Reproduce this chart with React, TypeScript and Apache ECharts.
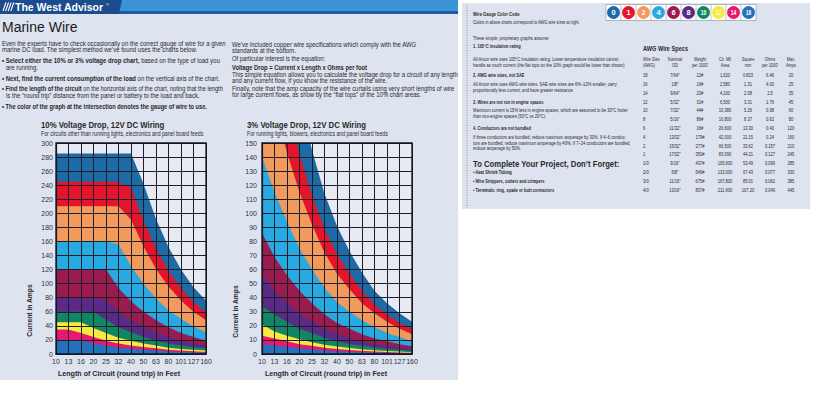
import React, { useEffect, useRef } from "react";
import * as echarts from "echarts";

// ---------- data ----------
const lengths = ["10", "13", "16", "20", "25", "32", "40", "50", "63", "80", "101", "127", "160"];
const gauges = ["0", "1", "2", "4", "6", "8", "10", "12", "14", "16"];
const gaugeColors = ["#1c6aa6", "#e3152c", "#f29a5b", "#27a9e1", "#9c1b4e", "#5a2a86", "#0f8765", "#f6ea3d", "#e6186f", "#2471bd"];

// 10% voltage drop chart (amps, top edge of each gauge's area)
const tenPctAwg0 = [285, 285, 285, 285, 285, 285, 285, 242, 192, 152, 120, 95, 76];
const tenPctAwg1 = [245, 245, 245, 245, 245, 245, 236, 189, 150, 118, 94, 74, 59];
const tenPctAwg2 = [210, 210, 210, 210, 210, 210, 191, 153, 121, 96, 76, 60, 48];
const tenPctAwg4 = [160, 160, 160, 160, 160, 156, 125, 100, 79, 62, 50, 39, 31];
const tenPctAwg6 = [120, 120, 120, 120, 120, 94, 75, 60, 48, 38, 30, 24, 19];
const tenPctAwg8 = [80, 80, 80, 80, 77, 60, 48, 39, 31, 24, 19, 15, 12];
const tenPctAwg10 = [60, 60, 60, 60, 49, 38, 31, 24, 19, 15, 12, 10, 8];
const tenPctAwg12 = [45, 45, 45, 37, 30, 23, 19, 15, 12, 9, 7, 6, 5];
const tenPctAwg14 = [35, 35, 30, 24, 19, 15, 12, 10, 8, 6, 5, 4, 3];
const tenPctAwg16 = [20, 20, 19, 15, 12, 9, 7.5, 6, 5, 4, 3, 2.4, 1.9];

// 3% voltage drop chart
const threePctAwg0 = [364, 280, 227, 182, 145, 114, 91, 73, 58, 45, 36, 29, 23];
const threePctAwg1 = [283, 218, 177, 142, 113, 89, 71, 57, 45, 35, 28, 22, 18];
const threePctAwg2 = [229, 176, 143, 115, 92, 72, 57, 46, 36, 29, 23, 18, 14];
const threePctAwg4 = [140, 115, 94, 75, 60, 47, 37, 30, 24, 19, 15, 12, 9];
const threePctAwg6 = [86, 69, 56, 45, 36, 28, 22, 18, 14, 11, 9, 7, 5.5];
const threePctAwg8 = [57, 45, 36, 29, 23, 18, 14.5, 11.6, 9, 7, 5.8, 4.6, 3.6];
const threePctAwg10 = [34, 28, 23, 18, 15, 11.5, 9, 7, 6, 4.6, 3.6, 2.9, 2.3];
const threePctAwg12 = [21, 16, 13, 10.5, 8.4, 6.6, 5.3, 4.2, 3.3, 2.6, 2.1, 1.7, 1.3];
const threePctAwg14 = [13, 11, 9, 7, 5.8, 4.5, 3.6, 2.9, 2.3, 1.8, 1.4, 1.1, 0.9];
const threePctAwg16 = [7, 6, 5, 4, 3.2, 2.5, 2, 1.6, 1.3, 1, 0.8, 0.6, 0.5];

// AWG wire spec table
const tableHeader = [["Wire Size", "(AWG)"], ["Nominal", "OD"], ["Weight", "per 1000'"], ["Cir. Mil", "Area"], ["Square", "mm"], ["Ohms", "per 1000'"], ["Max.", "Amps"]];
const awgSize = ["18", "16", "14", "12", "10", "8", "6", "4", "2", "1", "1/0", "2/0", "3/0", "4/0"];
const nominalOD = ['7/64"', '1/8"', '9/64"', '5/32"', '7/32"', '5/16"', '11/32"', '13/32"', '15/32"', '17/32"', '9/16"', '5/8"', '11/16"', '13/16"'];
const weightPer1000 = ["12#", "16#", "23#", "31#", "44#", "86#", "16#", "179#", "277#", "350#", "437#", "549#", "675#", "837#"];
const cirMilArea = ["1,620", "2,580", "4,100", "6,500", "10,380", "16,800", "26,600", "42,000", "66,500", "83,690", "105,600", "133,000", "167,800", "211,600"];
const squareMm = ["0.823", "1.31", "2.08", "3.31", "5.26", "8.37", "13.30", "21.15", "33.62", "44.21", "53.49", "67.43", "85.01", "107.20"];
const ohmsPer1000 = ["6.46", "4.00", "2.5", "1.76", "0.98", "0.62", "0.40", "0.24", "0.157", "0.127", "0.099", "0.077", "0.062", "0.049"];
const maxAmps = ["20", "25", "35", "45", "60", "80", "120", "160", "210", "245", "285", "330", "385", "445"];

const tenPct = [tenPctAwg0, tenPctAwg1, tenPctAwg2, tenPctAwg4, tenPctAwg6, tenPctAwg8, tenPctAwg10, tenPctAwg12, tenPctAwg14, tenPctAwg16];
const threePct = [threePctAwg0, threePctAwg1, threePctAwg2, threePctAwg4, threePctAwg6, threePctAwg8, threePctAwg10, threePctAwg12, threePctAwg14, threePctAwg16];

// ---------- helpers ----------
const FONT = "'Liberation Sans', Arial, Helvetica, sans-serif";
const INK = "#2a2a2a";

type TOpt = { size?: number; bold?: boolean; color?: string; sx?: number; align?: string; rot?: number };
function txt(x: number, y: number, text: string, o: TOpt = {}) {
  return {
    type: "text",
    x,
    y,
    scaleX: o.sx ?? 1,
    rotation: o.rot ?? 0,
    z: 10,
    silent: true,
    style: {
      text,
      fill: o.color ?? INK,
      fontSize: o.size ?? 6.5,
      fontWeight: o.bold ? "bold" : "normal",
      fontFamily: FONT,
      align: o.align ?? "left",
      verticalAlign: "middle",
    },
  };
}
function richTxt(x: number, y: number, parts: [string, boolean][], size: number, sx: number) {
  return {
    type: "text",
    x,
    y,
    scaleX: sx,
    z: 10,
    silent: true,
    style: {
      text: parts.map(([t, b]) => `{${b ? "b" : "n"}|${t}}`).join(""),
      align: "left",
      verticalAlign: "middle",
      rich: {
        b: { fontSize: size, fontWeight: "bold", fontFamily: FONT, fill: INK },
        n: { fontSize: size, fontWeight: "normal", fontFamily: FONT, fill: INK },
      },
    },
  };
}
function rect(x: number, y: number, w: number, h: number, fill: string, z = 0, extra: any = {}) {
  return { type: "rect", shape: { x, y, width: w, height: h }, style: { fill, ...extra }, z, silent: true };
}

// ---------- text content ----------
const introLeft: [number, number, number, [string, boolean][]][] = [
  [2, 43, 0.91, [["Even the experts have to check occasionally on the correct gauge of wire for a given", false]]],
  [2, 49.5, 0.91, [["marine DC load. The simplest method we\u2019ve found uses the charts below.", false]]],
  [2, 60.5, 0.91, [["\u2022 Select either the 10% or 3% voltage drop chart,", true], [" based on the type of load you", false]]],
  [6, 67, 0.91, [["are running.", false]]],
  [2, 78.5, 0.9, [["\u2022 Next, find the current consumption of the load", true], [" on the vertical axis of the chart.", false]]],
  [2, 88.5, 0.86, [["\u2022 Find the length of the circuit", true], [" on the horizontal axis of the chart, noting that the length", false]]],
  [6, 95, 0.91, [["is the \u201Cround trip\u201D distance from the panel or battery to the load and back.", false]]],
  [2, 106, 0.86, [["\u2022 The color of the graph at the intersection denotes the gauge of wire to use.", true]]],
];
const introRight: [number, number, number, [string, boolean][]][] = [
  [232, 44, 0.9, [["We\u2019ve included copper wire specifications which comply with the AWG", false]]],
  [232, 50, 0.9, [["standards at the bottom.", false]]],
  [232, 58.5, 0.88, [["Of particular interest is the equation:", false]]],
  [232, 67, 0.88, [["Voltage Drop = Current x Length x Ohms per foot", true]]],
  [232, 74.5, 0.9, [["This simple equation allows you to calculate the voltage drop for a circuit of any length", false]]],
  [232, 80.5, 0.9, [["and any current flow, if you know the resistance of the wire.", false]]],
  [232, 88.5, 0.9, [["Finally, note that the amp capacity of the wire curtails using very short lengths of wire", false]]],
  [232, 94.5, 0.9, [["for large current flows, as show by the \u201Cflat tops\u201D of the 10% chart areas.", false]]],
];

const ROW0 = 75.5;
const ROWH = 8.8;
const rowY = (i: number) => ROW0 + i * ROWH;

const notes: [number, string, boolean][] = [
  [38, "These simple, proprietary graphs assume:", false],
  [46, "1. 105\u00B0C insulation rating", true],
  [59, "All Ancor wire uses 105\u00B0C insulation rating. Lower temperature insulation cannot", false],
  [65, "handle as much current (the flat tops on the 10% graph would be lower than shown)", false],
  [rowY(0), "2. AWG wire sizes, not SAE", true],
  [rowY(1), "All Ancor wire uses AWG wire sizes. SAE wire sizes are 6%\u201312% smaller, carry", false],
  [rowY(1) + 5.8, "proportionally less current, and have greater resistance", false],
  [rowY(3), "3. Wires are not run in engine spaces", true],
  [rowY(4), "Maximum current is 15% less in engine spaces, which are assumed to be 30\u00B0C hotter", false],
  [rowY(4) + 5.8, "than non-engine spaces (50\u00B0C vs 20\u00B0C).", false],
  [rowY(6), "4. Conductors are not bundled", true],
  [rowY(7), "If three conductors are bundled, reduce maximum amperage by 30%. If 4\u20136 conduc-", false],
  [rowY(7) + 5.8, "tors are bundled, reduce maximum amperage by 40%. If 7\u201324 conductors are bundled,", false],
  [rowY(7) + 11.6, "reduce amperage by 50%.", false],
  [rowY(11) + 0.5, "\u2022 Heat Shrink Tubing", true],
  [rowY(12), "\u2022 Wire Strippers, cutters and crimpers", true],
  [rowY(13), "\u2022 Terminals: ring, spade or butt connectors", true],
];

export default function App() {
  const ref = useRef<HTMLDivElement>(null);

  useEffect(() => {
    if (!ref.current) return;
    const chart = echarts.init(ref.current, null, { renderer: "svg" });

    const G1 = { left: 56, top: 143, width: 150, height: 211 };
    const G2 = { left: 262, top: 143, width: 150, height: 211 };
    const PANEL = "#dde3ef";
    const PLOT = "#e7eaf3";
    const GRIDLINE = "#1e1e2a";

    const graphics: any[] = [];
    // backgrounds
    graphics.push(rect(0, 0, 458, 380, PANEL, 0));
    graphics.push(rect(462, 3, 348, 206, PANEL, 0));
    graphics.push(rect(G1.left, G1.top, G1.width, G1.height, PLOT, 1));
    graphics.push(rect(G2.left, G2.top, G2.width, G2.height, PLOT, 1));
    // header bar
    graphics.push(rect(0, 0, 458, 11, "#3d93d8", 2));
    graphics.push(rect(0, 11, 458, 3, "#1f5b9e", 2));
    graphics.push({ type: "polygon", shape: { points: [[0, 0], [122, 0], [119, 14], [0, 14]] }, style: { fill: "#1d4c8e" }, z: 3, silent: true });
    for (let k = 0; k < 4; k++) {
      graphics.push({ type: "line", shape: { x1: 3 + k * 2.6, y1: 11, x2: 6 + k * 2.6, y2: 2.5 }, style: { stroke: "#ffffff", lineWidth: 1.1 }, z: 4, silent: true });
    }
    graphics.push(txt(15, 7, "The West Advisor", { size: 10.5, bold: true, color: "#ffffff" }));
    graphics.push(txt(106, 4, "\u00AE", { size: 4, color: "#ffffff" }));
    graphics.push(txt(2, 26.5, "Marine Wire", { size: 14, color: "#1a1a1a" }));

    introLeft.forEach(([x, y, sx, parts]) => graphics.push(richTxt(x, y, parts, 6.6, sx)));
    introRight.forEach(([x, y, sx, parts]) => graphics.push(richTxt(x, y, parts, 6.6, sx)));

    // chart titles
    graphics.push(txt(41, 125, "10% Voltage Drop, 12V DC Wiring", { size: 9.5, bold: true, sx: 0.82 }));
    graphics.push(txt(41, 134, "For circuits other than running lights, electronics and panel board feeds", { size: 6.3, sx: 0.82 }));
    graphics.push(txt(247, 125, "3% Voltage Drop, 12V DC Wiring", { size: 9.5, bold: true, sx: 0.82 }));
    graphics.push(txt(247, 134, "For running lights, blowers, electronics and panel board feeds", { size: 6.3, sx: 0.82 }));
    // axis names
    graphics.push(txt(119, 373, "Length of Circuit (round trip) in Feet", { size: 8, bold: true, sx: 0.89, align: "center" }));
    graphics.push(txt(326, 373, "Length of Circuit (round trip) in Feet", { size: 8, bold: true, sx: 0.89, align: "center" }));
    graphics.push(txt(29.5, 310.5, "Current in Amps", { size: 8, bold: true, sx: 0.84, align: "center", rot: Math.PI / 2 }));
    graphics.push(txt(235, 311.5, "Current in Amps", { size: 8, bold: true, sx: 0.84, align: "center", rot: Math.PI / 2 }));
    // plot borders
    [G1, G2].forEach((g) =>
      graphics.push({ type: "rect", shape: { x: g.left, y: g.top, width: g.width, height: g.height }, style: { fill: "none", stroke: "#15151f", lineWidth: 1.3 }, z: 20, silent: true })
    );

    // right panel
    graphics.push({ type: "line", shape: { x1: 467, y1: 5, x2: 467, y2: 208 }, style: { stroke: "#6b6b6b", lineWidth: 0.7, lineDash: [1, 1.5] }, z: 3, silent: true });
    graphics.push(txt(473, 14, "Wire Gauge Color Code", { size: 5.2, bold: true, sx: 0.8 }));
    graphics.push(txt(473, 22.5, "Colors in above charts correspond to AWG wire sizes at right.", { size: 4.8, sx: 0.82 }));
    graphics.push(rect(606, 4.5, 150, 16, "#ffffff", 3, { stroke: "#8a8a8a", lineWidth: 0.6 }));
    gauges.forEach((g, i) => {
      const cx = 606 + 7.5 + 15 * i;
      if (i > 0) graphics.push({ type: "line", shape: { x1: 606 + 15 * i, y1: 4.5, x2: 606 + 15 * i, y2: 20.5 }, style: { stroke: "#8a8a8a", lineWidth: 0.5 }, z: 4, silent: true });
      graphics.push({ type: "circle", shape: { cx, cy: 12.5, r: 6.4 }, style: { fill: gaugeColors[i] }, z: 5, silent: true });
      graphics.push(txt(cx, 12.7, g, { size: g.length > 1 ? 6.3 : 7.5, bold: true, color: i === 7 ? "#fffde0" : "#ffffff", align: "center", sx: g.length > 1 ? 0.8 : 1 }));
    });
    notes.forEach(([y, t, b]) => graphics.push(txt(473, y, t, { size: 5, bold: b, sx: b ? 0.8 : 0.82 })));
    graphics.push(txt(473, rowY(10) + 0.5, "To Complete Your Project, Don\u2019t Forget:", { size: 8.8, bold: true, sx: 0.88 }));

    graphics.push(txt(643, 48, "AWG Wire Specs", { size: 7, bold: true, sx: 0.8 }));
    const colX = [643, 675, 700, 725, 748, 770, 791];
    tableHeader.forEach(([a, b], c) => {
      const al = c === 0 ? "left" : "center";
      graphics.push(txt(colX[c], 59, a, { size: 4.9, sx: 0.8, align: al }));
      graphics.push(txt(colX[c], 65, b, { size: 4.9, sx: 0.8, align: al }));
    });
    const cols = [awgSize, nominalOD, weightPer1000, cirMilArea, squareMm, ohmsPer1000, maxAmps];
    cols.forEach((col, c) => {
      col.forEach((v, r) => {
        graphics.push(txt(colX[c], rowY(r), v, { size: 5.2, sx: 0.78, align: c === 0 ? "left" : "center" }));
      });
    });

    const areaSeries = (name: string, data: number[], color: string, idx: number) => ({
      type: "line",
      name,
      data,
      xAxisIndex: idx,
      yAxisIndex: idx,
      symbol: "none",
      showSymbol: false,
      lineStyle: { width: 0 },
      areaStyle: { color, opacity: 1 },
      itemStyle: { color },
      clip: true,
      silent: true,
      z: 2,
    });

    const series: any[] = [];
    gauges.forEach((g, i) => series.push(areaSeries(`10% AWG ${g}`, tenPct[i], gaugeColors[i], 0)));
    gauges.forEach((g, i) => series.push(areaSeries(`3% AWG ${g}`, threePct[i], gaugeColors[i], 1)));

    const xAxisBase = (gridIndex: number) => ({
      gridIndex,
      type: "category",
      data: lengths,
      boundaryGap: false,
      z: 5,
      axisLine: { show: true, lineStyle: { color: GRIDLINE, width: 1.2 } },
      axisTick: { show: false },
      axisLabel: { interval: 0, fontSize: 7, color: "#333", margin: 4, fontFamily: FONT },
      splitLine: { show: true, lineStyle: { color: GRIDLINE, width: 1 } },
    });
    const yAxisBase = (gridIndex: number, max: number, interval: number, margin: number) => ({
      gridIndex,
      type: "value",
      min: 0,
      max,
      interval,
      z: 5,
      axisLine: { show: true, lineStyle: { color: GRIDLINE, width: 1.2 } },
      axisTick: { show: false },
      axisLabel: { fontSize: 7, color: "#333", margin, fontFamily: FONT },
      splitLine: { show: true, lineStyle: { color: GRIDLINE, width: 1 } },
    });

    chart.setOption({
      animation: false,
      backgroundColor: "#ffffff",
      grid: [
        { ...G1, show: false, containLabel: false },
        { ...G2, show: false, containLabel: false },
      ],
      xAxis: [xAxisBase(0), xAxisBase(1)],
      yAxis: [yAxisBase(0, 300, 20, 3), yAxisBase(1, 150, 10, 5)],
      series,
      graphic: { elements: graphics },
    });

    return () => chart.dispose();
  }, []);

  return <div ref={ref} style={{ position: "absolute", left: 0, top: 0, width: 827, height: 400 }} />;
}
